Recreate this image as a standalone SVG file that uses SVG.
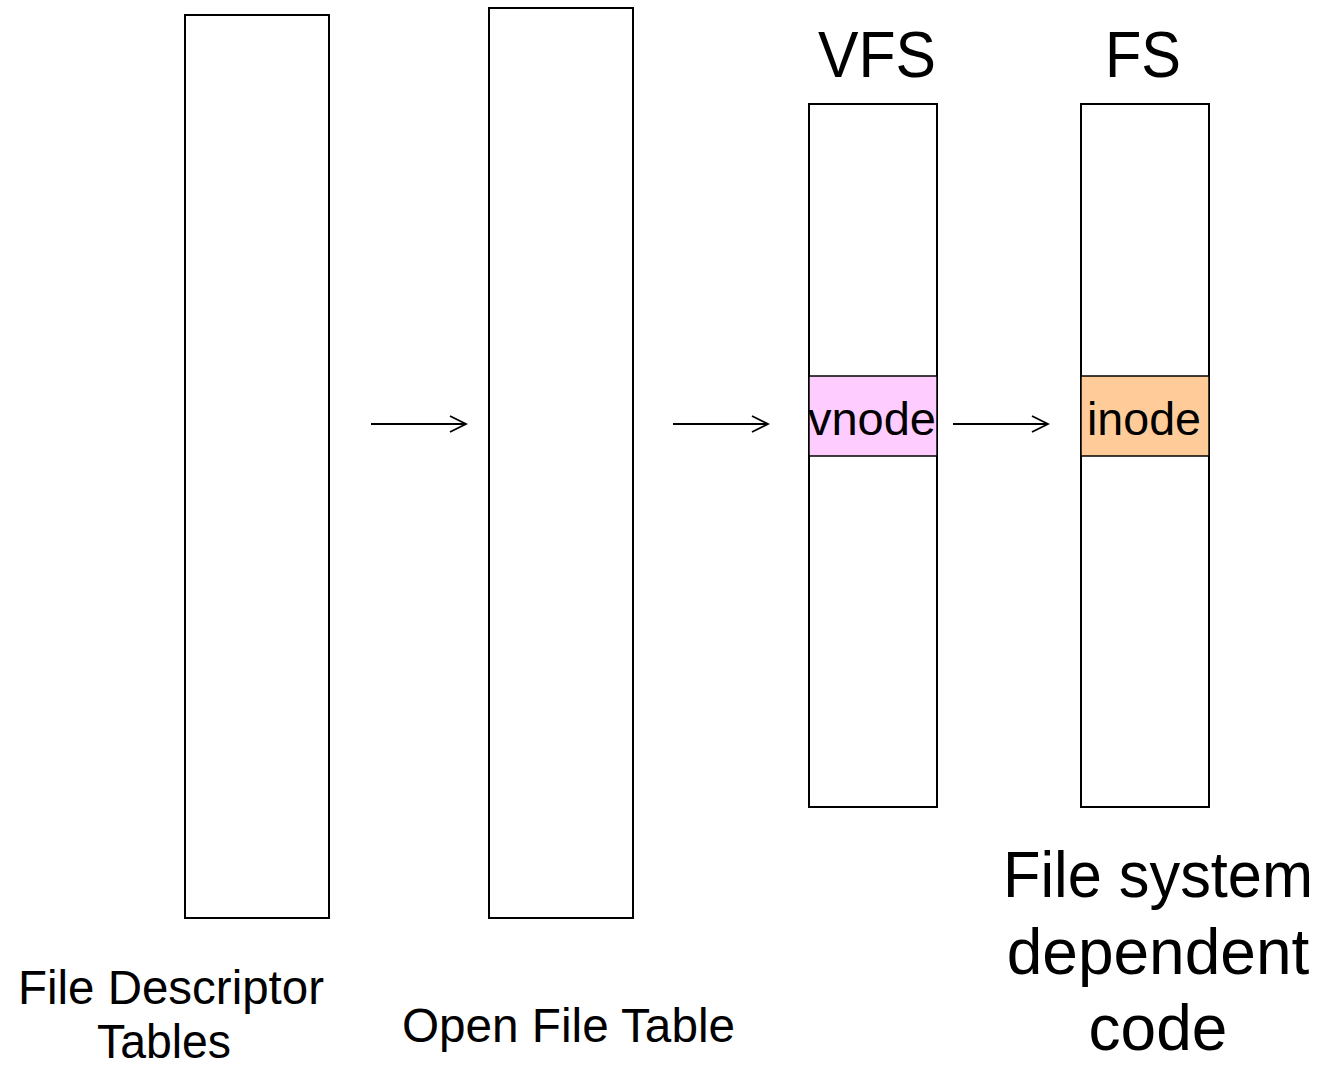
<svg xmlns="http://www.w3.org/2000/svg" width="1326" height="1066" viewBox="0 0 1326 1066">
<defs>
<style>
.box{fill:#fff;stroke:#000;stroke-width:2}
.cell{stroke:#000;stroke-width:1.5}
.t{font-family:"Liberation Sans",Arial,sans-serif;fill:#000}
.conn{stroke:#000;stroke-width:1.8;fill:none}
</style>
<marker id="arr" viewBox="0 0 20 20" refX="18" refY="10" markerWidth="20" markerHeight="20" markerUnits="userSpaceOnUse" orient="auto">
<path d="M2,2 L18,10 L2,18" fill="none" stroke="#000" stroke-width="1.8"/>
</marker>
</defs>
<rect width="1326" height="1066" fill="#fff"/>
<g id="fd-table">
<rect class="box" x="185" y="15" width="144" height="903"/>
<text class="t" x="18" y="1004" font-size="48" textLength="306" lengthAdjust="spacingAndGlyphs">File Descriptor</text>
<text class="t" x="97" y="1058" font-size="48" textLength="134" lengthAdjust="spacingAndGlyphs">Tables</text>
</g>
<g id="open-file-table">
<rect class="box" x="489" y="8" width="144" height="910"/>
<text class="t" x="402" y="1042" font-size="48" textLength="333" lengthAdjust="spacingAndGlyphs">Open File Table</text>
</g>
<g id="vfs">
<text class="t" x="818" y="77" font-size="64" textLength="118" lengthAdjust="spacingAndGlyphs">VFS</text>
<rect class="box" x="809" y="104" width="128" height="703"/>
<rect class="cell" x="809" y="376" width="128" height="80" fill="#ffccff"/>
<text class="t" x="808" y="435" font-size="47" textLength="128" lengthAdjust="spacingAndGlyphs">vnode</text>
</g>
<g id="fs">
<text class="t" x="1105" y="77" font-size="64" textLength="76" lengthAdjust="spacingAndGlyphs">FS</text>
<rect class="box" x="1081" y="104" width="128" height="703"/>
<rect class="cell" x="1081" y="376" width="128" height="80" fill="#ffcc99"/>
<text class="t" x="1087" y="435" font-size="47" textLength="114" lengthAdjust="spacingAndGlyphs">inode</text>
<text class="t" x="1003" y="897" font-size="64" textLength="310" lengthAdjust="spacingAndGlyphs">File system</text>
<text class="t" x="1158" y="974" font-size="64" text-anchor="middle">dependent</text>
<text class="t" x="1158" y="1050" font-size="64" text-anchor="middle">code</text>
</g>
<g id="connectors">
<line class="conn" x1="371" y1="424" x2="466" y2="424" marker-end="url(#arr)"/>
<line class="conn" x1="673" y1="424" x2="768" y2="424" marker-end="url(#arr)"/>
<line class="conn" x1="953" y1="424" x2="1048" y2="424" marker-end="url(#arr)"/>
</g>
</svg>
